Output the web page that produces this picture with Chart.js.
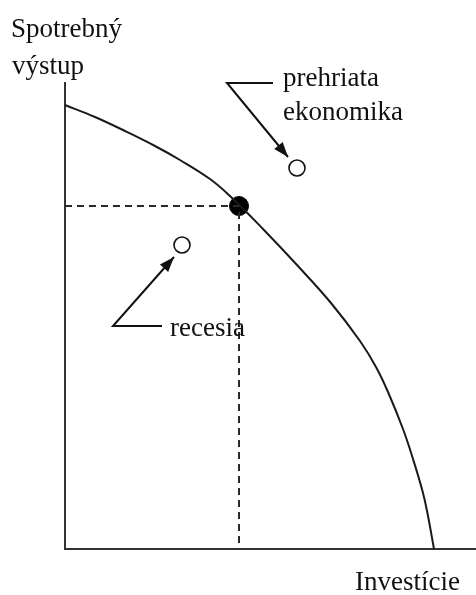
<!DOCTYPE html>
<html>
<head>
<meta charset="utf-8">
<script src="https://cdn.jsdelivr.net/npm/chart.js@4"></script>
<style>
  html, body { margin: 0; padding: 0; background: #fff; }
  canvas { display: block; }
</style>
</head>
<body>
<canvas id="c" width="476" height="595"></canvas>
<script>
// Production possibilities frontier
const curveX = [0, 30, 60, 90, 115, 145, 165, 198, 232, 266, 295, 311, 323, 338, 348, 358, 363, 369];
const curveY = [444, 432, 418, 403, 389, 370, 353, 320, 284, 246, 208, 182, 157, 120, 90, 56, 33, 0];

// Efficient point on the frontier
const efficientPoint = [174, 343];
// Points off the frontier
const overheatedPoint = [232, 381];
const recessionPoint = [117, 304];

// Leader arrows (elbow, start, tip)
const overheatedArrowX = [208, 162, 223];
const overheatedArrowY = [466, 466, 392];
const recessionArrowX = [97, 48, 109];
const recessionArrowY = [223, 223, 292];

// Labels
const yAxisLabel = ['Spotrebný', 'výstup'];
const xAxisLabel = 'Investície';
const overheatedLabel = ['prehriata', 'ekonomika'];
const recessionLabel = 'recesia';

const xMax = 411, yMax = 467;

const pts = (xs, ys) => xs.map((x, i) => ({ x: x, y: ys[i] }));

const INK = '#111';

const axesPlugin = {
  id: 'axesLines',
  beforeDatasetsDraw(chart) {
    const ctx = chart.ctx;
    const xs = chart.scales.x, ys = chart.scales.y;
    const x0 = xs.getPixelForValue(0), y0 = ys.getPixelForValue(0);
    const x1 = xs.getPixelForValue(xMax), y1 = ys.getPixelForValue(yMax);
    ctx.save();
    ctx.strokeStyle = '#333';
    ctx.lineWidth = 2;
    ctx.beginPath();
    ctx.moveTo(x0, y1);
    ctx.lineTo(x0, y0);
    ctx.lineTo(x1, y0);
    ctx.stroke();
    ctx.restore();
  }
};

const arrowPlugin = {
  id: 'arrows',
  afterDatasetsDraw(chart) {
    const ctx = chart.ctx;
    const xs = chart.scales.x, ys = chart.scales.y;
    chart.data.datasets.forEach(ds => {
      if (!ds.arrow) return;
      const n = ds.data.length;
      const a = ds.data[n - 2], b = ds.data[n - 1];
      const ax = xs.getPixelForValue(a.x), ay = ys.getPixelForValue(a.y);
      const bx = xs.getPixelForValue(b.x), by = ys.getPixelForValue(b.y);
      const ang = Math.atan2(by - ay, bx - ax);
      const L = 15, W = 5.5;
      ctx.save();
      ctx.fillStyle = INK;
      ctx.beginPath();
      ctx.moveTo(bx, by);
      ctx.lineTo(bx - L * Math.cos(ang) + W * Math.sin(ang), by - L * Math.sin(ang) - W * Math.cos(ang));
      ctx.lineTo(bx - L * Math.cos(ang) - W * Math.sin(ang), by - L * Math.sin(ang) + W * Math.cos(ang));
      ctx.closePath();
      ctx.fill();
      ctx.restore();
    });
  }
};

const textPlugin = {
  id: 'texts',
  afterDraw(chart) {
    const ctx = chart.ctx;
    ctx.save();
    ctx.fillStyle = INK;
    ctx.font = '27px "Liberation Serif", "Times New Roman", serif';
    ctx.textBaseline = 'alphabetic';
    ctx.textAlign = 'left';
    ctx.fillText(yAxisLabel[0], 11, 37);
    ctx.fillText(yAxisLabel[1], 12, 74);
    ctx.fillText(overheatedLabel[0], 283, 86);
    ctx.fillText(overheatedLabel[1], 283, 120);
    ctx.fillText(recessionLabel, 170, 336);
    ctx.fillText(xAxisLabel, 355, 590);
    ctx.restore();
  }
};

new Chart(document.getElementById('c'), {
  type: 'scatter',
  data: {
    datasets: [
      {
        data: pts(curveX, curveY),
        showLine: true,
        borderColor: '#1a1a1a',
        borderWidth: 2,
        pointRadius: 0,
        tension: 0.4,
        clip: false
      },
      {
        data: [{ x: 0, y: efficientPoint[1] }, { x: efficientPoint[0], y: efficientPoint[1] }, { x: efficientPoint[0], y: 0 }],
        showLine: true,
        borderColor: '#2a2a2a',
        borderWidth: 2,
        borderDash: [7, 5],
        pointRadius: 0
      },
      {
        data: pts(overheatedArrowX, overheatedArrowY),
        showLine: true,
        borderColor: INK,
        borderWidth: 2,
        pointRadius: 0,
        arrow: true
      },
      {
        data: pts(recessionArrowX, recessionArrowY),
        showLine: true,
        borderColor: INK,
        borderWidth: 2,
        pointRadius: 0,
        arrow: true
      },
      {
        data: [{ x: efficientPoint[0], y: efficientPoint[1] }],
        pointRadius: 9.5,
        pointBackgroundColor: '#000',
        pointBorderColor: '#000',
        pointBorderWidth: 1
      },
      {
        data: [{ x: overheatedPoint[0], y: overheatedPoint[1] }, { x: recessionPoint[0], y: recessionPoint[1] }],
        pointRadius: 8,
        pointBackgroundColor: '#fff',
        pointBorderColor: INK,
        pointBorderWidth: 1.6
      }
    ]
  },
  options: {
    responsive: false,
    animation: false,
    events: [],
    layout: { autoPadding: false, padding: { left: 65, top: 82, right: 0, bottom: 46 } },
    plugins: { legend: { display: false }, tooltip: { enabled: false } },
    scales: {
      x: { type: 'linear', min: 0, max: xMax, display: false },
      y: { type: 'linear', min: 0, max: yMax, display: false }
    }
  },
  plugins: [axesPlugin, arrowPlugin, textPlugin]
});
</script>
</body>
</html>
